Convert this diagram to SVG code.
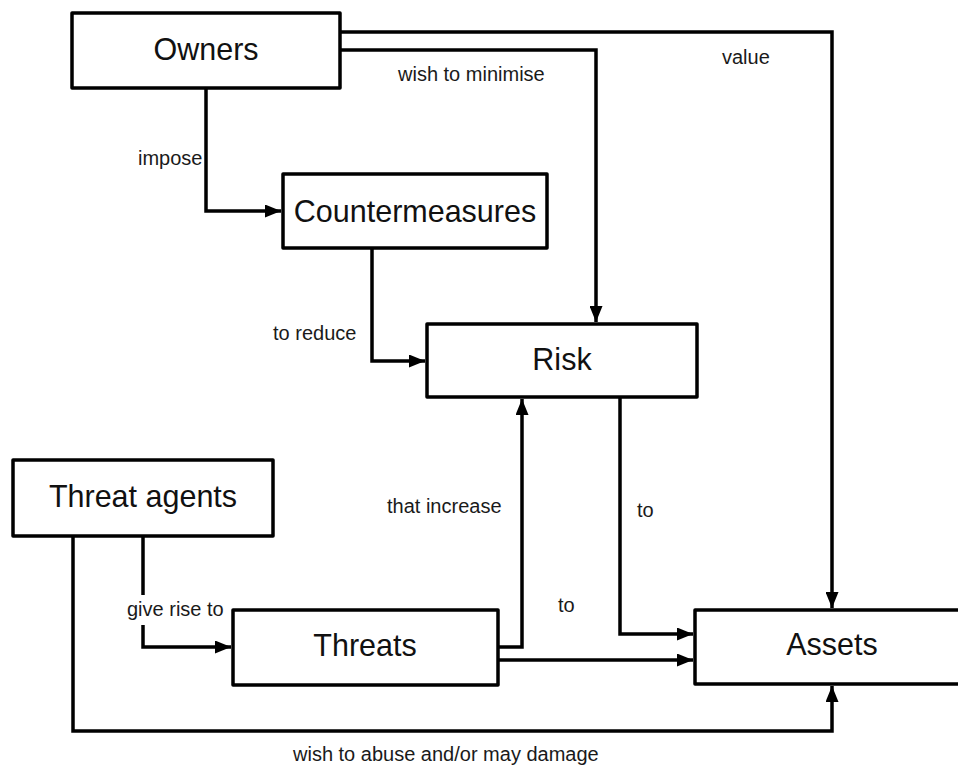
<svg xmlns="http://www.w3.org/2000/svg" width="958" height="767" viewBox="0 0 958 767">
<style>
.box{fill:#fff;stroke:#000;stroke-width:3.5;stroke-linejoin:round}
.node{font-family:"Liberation Sans",Arial,sans-serif;font-size:30.5px;fill:#111;text-anchor:middle}
.lbl{font-family:"Liberation Sans",Arial,sans-serif;font-size:20px;fill:#1a1a1a}
.c{fill:none;stroke:#000;stroke-width:3.5;stroke-linejoin:miter}
</style>
<defs>
<marker id="arr" markerUnits="userSpaceOnUse" markerWidth="17" markerHeight="13" refX="16" refY="6.5" orient="auto">
<path d="M0,0 L16,6.5 L0,13 z" fill="#000"/>
</marker>
</defs>
<g id="connectors">
<path class="c" d="M206,88 V211 H281" marker-end="url(#arr)"/>
<path class="c" d="M340,50 H596 V322" marker-end="url(#arr)"/>
<path class="c" d="M340,32 H832 V608" marker-end="url(#arr)"/>
<path class="c" d="M372,248 V361 H425" marker-end="url(#arr)"/>
<path class="c" d="M143,536 V647 H231" marker-end="url(#arr)"/>
<path class="c" d="M73,536 V731 H832 V686" marker-end="url(#arr)"/>
<path class="c" d="M498,647 H522 V399" marker-end="url(#arr)"/>
<path class="c" d="M498,660 H693" marker-end="url(#arr)"/>
<path class="c" d="M620,397 V634 H693" marker-end="url(#arr)"/>
</g>
<g id="labels">
<text class="lbl" x="138" y="165">impose</text>
<text class="lbl" x="398" y="81">wish to minimise</text>
<text class="lbl" x="722" y="64">value</text>
<text class="lbl" x="273" y="340">to reduce</text>
<text class="lbl" x="387" y="513">that increase</text>
<text class="lbl" x="637" y="517">to</text>
<text class="lbl" x="558" y="612">to</text>
<rect x="125" y="595" width="104" height="30" fill="#fff"/>
<text class="lbl" x="127" y="616">give rise to</text>
<text class="lbl" x="293" y="761">wish to abuse and/or may damage</text>
</g>
<g id="owners"><rect class="box" x="72" y="13" width="268" height="75"/><text class="node" x="206" y="60">Owners</text></g>
<g id="countermeasures"><rect class="box" x="283" y="174" width="264" height="74"/><text class="node" x="415" y="222">Countermeasures</text></g>
<g id="risk"><rect class="box" x="427" y="324" width="270" height="73"/><text class="node" x="562" y="370">Risk</text></g>
<g id="threat-agents"><rect class="box" x="13" y="460" width="260" height="76"/><text class="node" x="143" y="507">Threat agents</text></g>
<g id="threats"><rect class="box" x="233" y="610" width="265" height="75"/><text class="node" x="365" y="656">Threats</text></g>
<g id="assets"><rect class="box" x="695" y="610" width="274" height="74"/><text class="node" x="832" y="655">Assets</text></g>
</svg>
